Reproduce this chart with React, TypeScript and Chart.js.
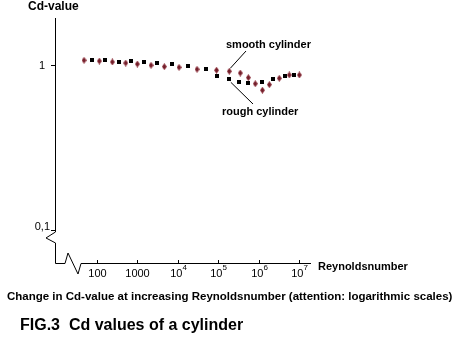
import React, { useEffect, useRef } from "react";
import { Chart, registerables } from "chart.js";

Chart.register(...registerables);

// Reynolds numbers and Cd values
const smoothRe = [47.7, 114, 239, 513, 995, 2170, 4640, 10700, 29900, 90800, 188000, 352000, 556000, 828000, 1240000, 1840000, 3250000, 5750000, 10200000];
const smoothCd = [1.068, 1.057, 1.043, 1.028, 1.014, 0.996, 0.977, 0.968, 0.942, 0.93, 0.916, 0.894, 0.838, 0.77, 0.703, 0.76, 0.831, 0.87, 0.87];
const roughRe = [76.6, 160, 351, 695, 1480, 3110, 7310, 18200, 50700, 90800, 183000, 333000, 556000, 1240000, 2310000, 4580000, 7660000];
const roughCd = [1.068, 1.068, 1.047, 1.053, 1.038, 1.024, 1.01, 0.989, 0.942, 0.855, 0.819, 0.786, 0.778, 0.786, 0.819, 0.854, 0.87];

const xTickValues = [100, 1000, 1e4, 1e5, 1e6, 1e7];
const xTickBase = ["100", "1000", "10", "10", "10", "10"];
const xTickExp = ["", "", "4", "5", "6", "7"];
const yTickValues = [1, 0.1];
const yTickLabels = ["1", "0,1"];

const yTitle = "Cd-value";
const xTitle = "Reynoldsnumber";
const smoothLabel = "smooth cylinder";
const roughLabel = "rough cylinder";
const caption = "Change in Cd-value at increasing Reynoldsnumber (attention: logarithmic scales)";
const figTitle = "FIG.3  Cd values of a cylinder";

function makeDiamond(): HTMLCanvasElement {
  const c = document.createElement("canvas");
  c.width = 5;
  c.height = 7;
  const g = c.getContext("2d")!;
  g.fillStyle = "#8a2a36";
  g.beginPath();
  g.moveTo(2.5, 0);
  g.lineTo(5, 3.5);
  g.lineTo(2.5, 7);
  g.lineTo(0, 3.5);
  g.closePath();
  g.fill();
  g.fillStyle = "#6e1f2a";
  g.fillRect(1.5, 2, 2, 3);
  return c;
}

function makeSquare(): HTMLCanvasElement {
  const c = document.createElement("canvas");
  c.width = 4;
  c.height = 4;
  const g = c.getContext("2d")!;
  g.fillStyle = "#000";
  g.fillRect(0, 0, 4, 4);
  return c;
}

const FONT = "Arial, 'Liberation Sans', sans-serif";

const decorPlugin = {
  id: "decor",
  afterDraw(chart: any) {
    const ctx: CanvasRenderingContext2D = chart.ctx;
    const xs = chart.scales.x;
    const ys = chart.scales.y;
    const area = chart.chartArea;
    const ax = area.left; // y-axis x position
    const ay = area.bottom; // x-axis y position
    ctx.save();
    ctx.strokeStyle = "#000";
    ctx.lineWidth = 1;
    const y01 = ys.getPixelForValue(0.1);
    // y axis with break
    ctx.beginPath();
    ctx.moveTo(ax + 0.5, area.top);
    ctx.lineTo(ax + 0.5, y01 + 2);
    ctx.lineTo(ax - 9, y01 + 8);
    ctx.lineTo(ax + 0.5, y01 + 13);
    ctx.lineTo(ax + 0.5, ay - 0.5);
    ctx.lineTo(ax + 10, ay - 0.5);
    ctx.lineTo(ax + 13, ay - 11);
    ctx.lineTo(ax + 23, ay + 10);
    ctx.lineTo(ax + 26, ay - 0.5);
    ctx.lineTo(area.right, ay - 0.5);
    ctx.stroke();

    // y ticks
    ctx.fillStyle = "#000";
    ctx.font = `11px ${FONT}`;
    ctx.textBaseline = "middle";
    ctx.textAlign = "right";
    yTickValues.forEach((v, i) => {
      const py = Math.round(ys.getPixelForValue(v)) + 0.5;
      ctx.beginPath();
      ctx.moveTo(ax - 4, py);
      ctx.lineTo(ax, py);
      ctx.stroke();
      ctx.fillText(yTickLabels[i], ax - (i === 1 ? 5 : 10), py - (i === 1 ? 4 : 0));
    });

    // x ticks
    xTickValues.forEach((v, i) => {
      const px = Math.round(xs.getPixelForValue(v)) + 0.5;
      ctx.beginPath();
      ctx.moveTo(px, ay - 4);
      ctx.lineTo(px, ay);
      ctx.stroke();
      ctx.font = `11px ${FONT}`;
      ctx.textBaseline = "alphabetic";
      const bw = ctx.measureText(xTickBase[i]).width;
      let ew = 0;
      if (xTickExp[i]) {
        ctx.font = `8px ${FONT}`;
        ew = ctx.measureText(xTickExp[i]).width;
      }
      const start = px - (bw + ew) / 2;
      ctx.font = `11px ${FONT}`;
      ctx.textAlign = "left";
      ctx.fillText(xTickBase[i], start, ay + 13);
      if (xTickExp[i]) {
        ctx.font = `8px ${FONT}`;
        ctx.fillText(xTickExp[i], start + bw, ay + 6);
      }
    });

    // titles
    ctx.font = `bold 12px ${FONT}`;
    ctx.textAlign = "left";
    ctx.textBaseline = "middle";
    ctx.fillText(yTitle, 28, 7);
    ctx.font = `bold 11px ${FONT}`;
    ctx.fillText(xTitle, area.right + 7, ay + 3);

    // annotations
    const sm = chart.getDatasetMeta(0).data[10];
    const rg = chart.getDatasetMeta(1).data[10];
    ctx.font = `bold 11px ${FONT}`;
    ctx.fillText(smoothLabel, 226, 45);
    ctx.fillText(roughLabel, 222, 112);
    ctx.beginPath();
    ctx.moveTo(246, 51);
    ctx.lineTo(sm.x + 1, sm.y - 3);
    ctx.moveTo(rg.x + 2, rg.y + 3);
    ctx.lineTo(253, 104);
    ctx.stroke();

    // caption
    ctx.font = `bold 11.5px ${FONT}`;
    ctx.fillText(caption, 7, 297);
    ctx.font = `bold 16px ${FONT}`;
    ctx.fillText(figTitle, 20, 326);
    ctx.restore();
  },
};

export default function App() {
  const ref = useRef<HTMLCanvasElement>(null);
  useEffect(() => {
    document.body.style.margin = "0";
    const diamond = makeDiamond();
    const square = makeSquare();
    const chart = new Chart(ref.current!, {
      type: "scatter",
      data: {
        datasets: [
          {
            label: smoothLabel,
            data: smoothRe.map((x, i) => ({ x, y: smoothCd[i] })),
            pointStyle: diamond as any,
            backgroundColor: "#8a2a36",
          },
          {
            label: roughLabel,
            data: roughRe.map((x, i) => ({ x, y: roughCd[i] })),
            pointStyle: square as any,
            backgroundColor: "#000",
          },
        ],
      },
      options: {
        animation: false,
        responsive: false,
        events: [],
        layout: { padding: { left: 55, right: 149, top: 18, bottom: 79 } },
        plugins: { legend: { display: false }, tooltip: { enabled: false } },
        scales: {
          x: { type: "logarithmic", min: 9.1, max: 1.98e7, display: false },
          y: { type: "logarithmic", min: 0.0622, max: 1.927, display: false },
        },
      },
      plugins: [decorPlugin],
    });
    return () => chart.destroy();
  }, []);
  return (
    <div style={{ position: "fixed", left: 0, top: 0, width: 460, height: 343, background: "#fff" }}>
      <canvas ref={ref} width={460} height={343} style={{ display: "block", width: 460, height: 343 }} />
    </div>
  );
}
